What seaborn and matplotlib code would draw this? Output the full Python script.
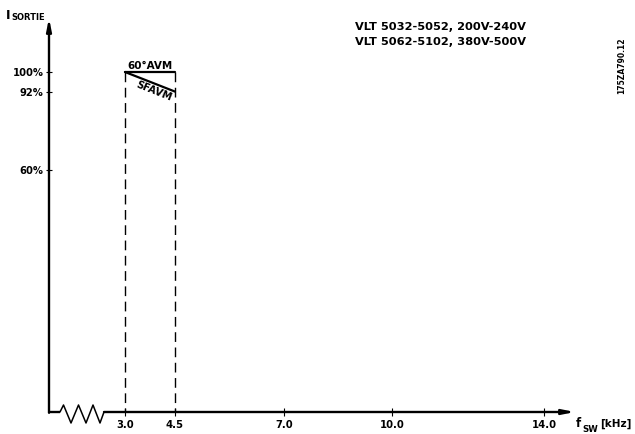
import numpy as np
import pandas as pd
import matplotlib
matplotlib.use("Agg")
import matplotlib.pyplot as plt
import seaborn as sns

# chart values
freq_khz = [3.0, 4.5]
avm60_pct = [100, 100]
sfavm_pct = [100, 92]
x_ticks = [3.0, 4.5, 7.0, 10.0, 14.0]
x_tick_labels = ["3.0", "4.5", "7.0", "10.0", "14.0"]
y_ticks = [60, 92, 100]
y_tick_labels = ["60%", "92%", "100%"]
models = ["VLT 5032-5052, 200V-240V", "VLT 5062-5102, 380V-500V"]
drawing_no = "175ZA790.12"

# schematic (non-linear) frequency axis: value -> pixel offset from origin
X_KNOT_VALS = np.array([0.0, 3.0, 4.5, 7.0, 10.0, 14.0, 16.0])
X_KNOT_PX = np.array([0.0, 76.0, 126.0, 235.0, 343.0, 495.0, 571.0])

def fwd(x):
    return np.interp(x, X_KNOT_VALS, X_KNOT_PX)

def inv(p):
    return np.interp(p, X_KNOT_PX, X_KNOT_VALS)

W, H = 635, 434
sns.set_theme(style="white")
plt.rcParams["font.family"] = ["DejaVu Sans"]
plt.rcParams["font.weight"] = "bold"
plt.rcParams["text.color"] = "black"

fig = plt.figure(figsize=(W / 100, H / 100), dpi=100)
ox, oy, top, right = 49, 412, 18, 575
ax = fig.add_axes([ox / W, (H - oy) / H, (right - ox) / W, (oy - top) / H])
ax.set_xscale("function", functions=(fwd, inv))
ax.set_xlim(0, inv(right - ox))
ax.set_ylim(100 - (oy - 72) / 2.45, 100 + (72 - top) / 2.45)
ax.set_facecolor("white")
for s in ax.spines.values():
    s.set_visible(False)


def fig_xy(px, py):
    return px / W, 1 - py / H


# mode curves
df = pd.DataFrame({
    "f": freq_khz + freq_khz,
    "I": avm60_pct + sfavm_pct,
    "mode": ["60°AVM"] * 2 + ["SFAVM"] * 2,
})
sns.lineplot(data=df, x="f", y="I", hue="mode", palette=["black", "black"],
             legend=False, ax=ax, linewidth=1.6, sort=False)
ax.set_xlabel("")
ax.set_ylabel("")

# dashed limits
ybot = ax.get_ylim()[0]
for f in freq_khz:
    ax.plot([f, f], [avm60_pct[0], ybot], color="black", lw=1.0,
            dashes=(7, 4), solid_capstyle="butt")

mid_f = float(np.mean(freq_khz))
ax.annotate("60°AVM", xy=(mid_f, avm60_pct[0]), xytext=(0, 1.0),
            textcoords="offset points", ha="center", va="bottom", fontsize=7.5)
ax.annotate("SFAVM", xy=(mid_f, np.mean(sfavm_pct)), xytext=(2.5, -6.5),
            textcoords="offset points", ha="center", va="center",
            fontsize=7.2, rotation=-21.8, rotation_mode="anchor")

# ticks
ax.set_xticks(x_ticks)
ax.set_xticklabels(x_tick_labels)
ax.set_yticks(y_ticks)
ax.set_yticklabels(y_tick_labels)
ax.xaxis.set_minor_locator(matplotlib.ticker.NullLocator())
ax.tick_params(axis="x", direction="inout", length=6, width=0.8, pad=3,
               labelsize=7.2, bottom=True, colors="black")
ax.tick_params(axis="y", direction="inout", length=5, width=0.8, pad=1.5,
               labelsize=7.2, left=True, colors="black")
ax.grid(False)

# axes with arrows
arrow = dict(arrowstyle="-|>,head_length=1.0,head_width=0.2", lw=1.7,
             color="black", shrinkA=0, shrinkB=0, mutation_scale=7)
ax.annotate("", xy=(0, 1), xytext=(0, -0.002), xycoords="axes fraction",
            arrowprops=arrow)
ax.annotate("", xy=(1, 0), xytext=((104 - ox) / (right - ox), 0),
            xycoords="axes fraction", arrowprops=arrow)
ax.plot([0, (60 - ox) / (right - ox)], [0, 0], transform=ax.transAxes,
        color="black", lw=1.7, clip_on=False, solid_capstyle="butt")

# axis break zigzag
zz_px = [60, 63.5, 71, 78.5, 86, 93, 100, 104]
zz_py = [412, 405, 423, 405, 423, 405, 423, 412]
zx, zy = zip(*[fig_xy(a, b) for a, b in zip(zz_px, zz_py)])
fig.add_artist(matplotlib.lines.Line2D(zx, zy, transform=fig.transFigure,
                                       color="black", lw=1.1))

# axis titles
fig.text(*fig_xy(6, 19), "I", fontsize=9, ha="left", va="baseline")
fig.text(*fig_xy(11, 20.5), "SORTIE", fontsize=6, ha="left", va="baseline")
fig.text(*fig_xy(576, 427), "f", fontsize=8.5, ha="left", va="baseline")
fig.text(*fig_xy(582, 431.5), "SW", fontsize=6.2, ha="left", va="baseline")
fig.text(*fig_xy(600, 427), "[kHz]", fontsize=7.5, ha="left", va="baseline")

# model notes
for i, m in enumerate(models):
    fig.text(*fig_xy(355, 27 + 15 * i), m, fontsize=8.2, ha="left", va="center")
fig.text(*fig_xy(622, 66), drawing_no, fontsize=5.5, rotation=90,
         ha="center", va="center")

fig.savefig("out.png", dpi=100, facecolor="white")
